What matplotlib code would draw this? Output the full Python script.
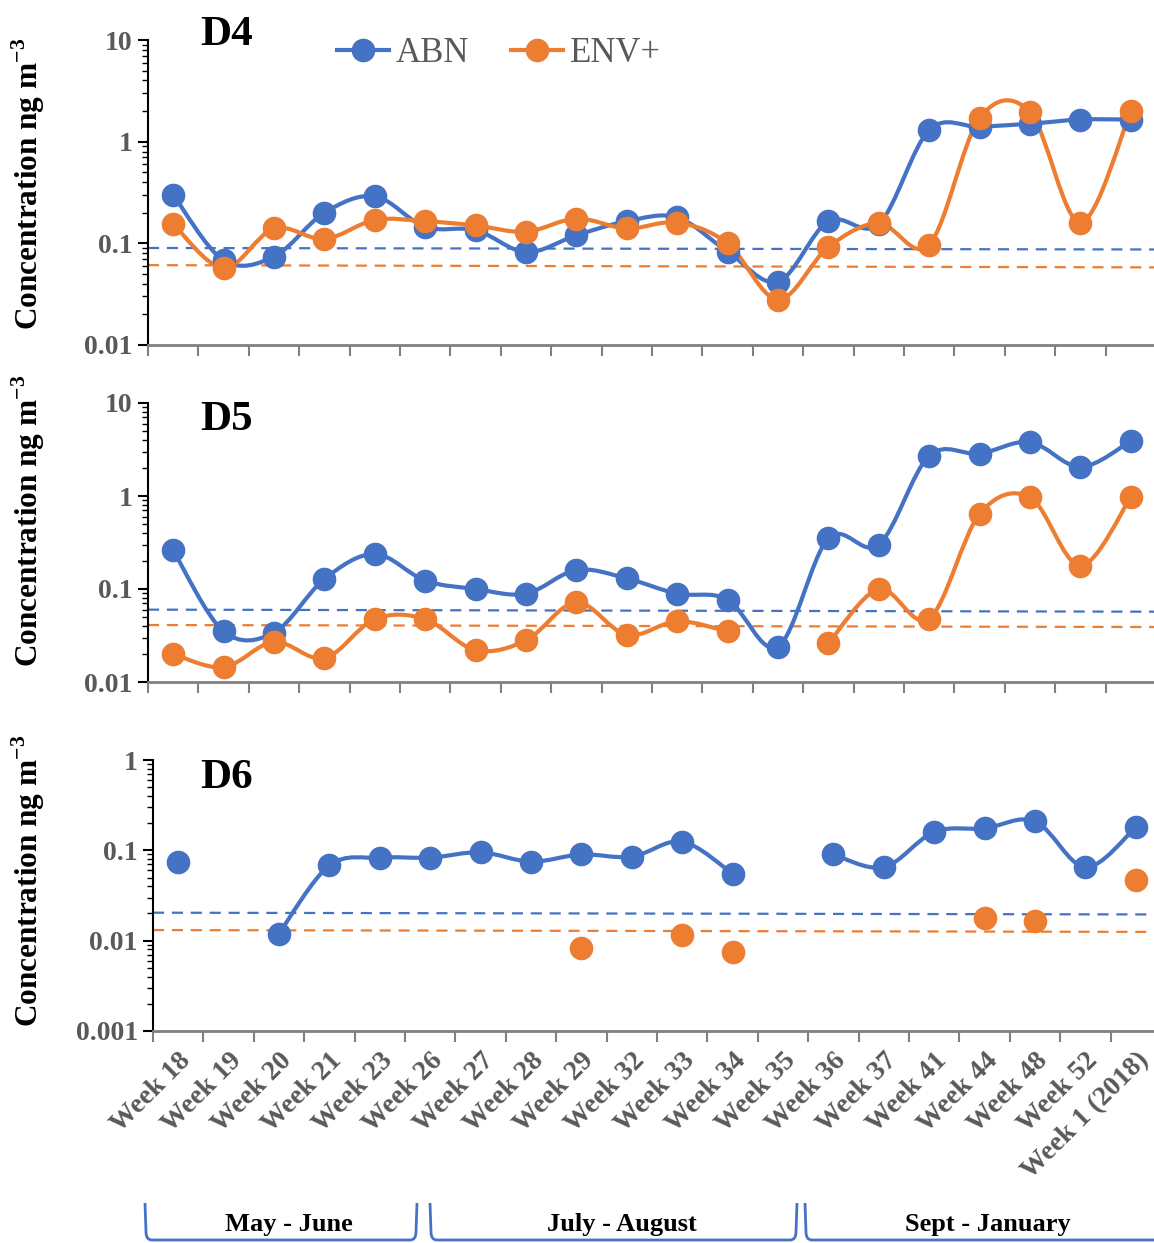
import numpy as np
import matplotlib
matplotlib.use('Agg')
import matplotlib.pyplot as plt
from matplotlib.path import Path
from matplotlib.patches import PathPatch
from matplotlib.lines import Line2D
from matplotlib.ticker import LogLocator, NullFormatter, FuncFormatter

plt.rcParams['font.family'] = ['Liberation Serif', 'DejaVu Serif']
plt.rcParams['mathtext.fontset'] = 'custom'
plt.rcParams['mathtext.rm'] = 'Liberation Serif'
plt.rcParams['mathtext.bf'] = 'Liberation Serif:bold'

nan = np.nan

#-----------------------data-----------------------------------------------#
weeks = ['Week 18', 'Week 19', 'Week 20', 'Week 21', 'Week 23', 'Week 26',
         'Week 27', 'Week 28', 'Week 29', 'Week 32', 'Week 33', 'Week 34',
         'Week 35', 'Week 36', 'Week 37', 'Week 41', 'Week 44', 'Week 48',
         'Week 52', 'Week 1 (2018)']

d4_abn = [0.30, 0.068, 0.074, 0.20, 0.29, 0.145, 0.135, 0.082, 0.12, 0.165,
          0.18, 0.083, 0.042, 0.165, 0.155, 1.3, 1.4, 1.5, 1.65, 1.65]
d4_env = [0.155, 0.057, 0.14, 0.11, 0.17, 0.165, 0.15, 0.13, 0.175, 0.14,
          0.16, 0.10, 0.028, 0.092, 0.158, 0.097, 1.7, 1.95, 0.16, 2.0]

d5_abn = [0.26, 0.035, 0.034, 0.128, 0.238, 0.123, 0.10, 0.089, 0.16, 0.13,
          0.089, 0.077, 0.024, 0.35, 0.30, 2.7, 2.85, 3.8, 2.05, 3.9]
d5_env = [0.020, 0.0144, 0.027, 0.018, 0.0475, 0.0475, 0.022, 0.028, 0.072, 0.032,
          0.045, 0.035, nan, 0.026, 0.10, 0.048, 0.64, 0.97, 0.178, 0.97]

d6_abn = [0.075, nan, 0.012, 0.068, 0.083, 0.083, 0.095, 0.075, 0.09, 0.085,
          0.125, 0.055, nan, 0.09, 0.065, 0.16, 0.175, 0.21, 0.065, 0.18]
d6_env = [nan, nan, nan, nan, nan, nan, nan, nan, 0.0082, nan,
          0.0115, 0.0075, nan, nan, nan, nan, 0.018, 0.0166, nan, 0.047]

# detection limit lines (value at left end, value at right end)
dl_abn = [(0.090, 0.087), (0.060, 0.057), (0.0204, 0.0195)]
dl_env = [(0.061, 0.058), (0.041, 0.039), (0.0131, 0.0125)]

panels = ['D4', 'D5', 'D6']
periods = ['May - June', 'July - August', 'Sept - January']

#-----------------------style---------------------------#
BLUE = '#4472C4'
ORANGE = '#ED7D31'
GREY = '#595959'

W, H = 1154, 1243


def fx(x):
    return x / W


def fy(y):
    return 1 - y / H


def smooth_path(y):
    # Excel-like smoothed line: Catmull-Rom beziers in (x, log y)
    x = np.arange(len(y), dtype=float)
    ly = np.log10(np.asarray(y, dtype=float))
    ok = ~np.isnan(ly)
    verts, codes = [], []
    i, n = 0, len(x)
    while i < n:
        if not ok[i]:
            i += 1
            continue
        j = i
        while j + 1 < n and ok[j + 1]:
            j += 1
        if j > i:
            px, py = x[i:j + 1], ly[i:j + 1]
            m = len(px)
            verts.append((px[0], py[0]))
            codes.append(Path.MOVETO)
            for k in range(m - 1):
                k0 = k - 1 if k > 0 else k
                k3 = k + 2 if k + 2 < m else k + 1
                c1 = (px[k] + (px[k + 1] - px[k0]) / 6, py[k] + (py[k + 1] - py[k0]) / 6)
                c2 = (px[k + 1] - (px[k3] - px[k]) / 6, py[k + 1] - (py[k3] - py[k]) / 6)
                verts += [c1, c2, (px[k + 1], py[k + 1])]
                codes += [Path.CURVE4] * 3
        i = j + 1
    if not verts:
        return None
    v = np.array(verts)
    v[:, 1] = 10 ** v[:, 1]
    return Path(v, codes)


fig = plt.figure(figsize=(W / 100, H / 100), dpi=100)

# axes boxes in pixels: left, top, bottom
boxes = [(148, 40, 345), (148, 403, 682), (153, 760, 1031)]
ylims = [(0.01, 10), (0.01, 10), (0.001, 1)]
series = [(d4_abn, d4_env), (d5_abn, d5_env), (d6_abn, d6_env)]
env_line = [True, True, False]
label_y = [0.528, 0.577, 0.553]
title_base = [45, 430, 788]

x = np.arange(len(weeks))
axes = []
for p in range(3):
    left, top, bottom = boxes[p]
    ax = fig.add_axes([fx(left), fy(bottom), 1008 / W, (bottom - top) / H])
    axes.append(ax)
    ax.set_yscale('log')
    ax.set_xlim(-0.5, len(weeks) - 0.5)
    ax.set_ylim(*ylims[p])

    abn, env = series[p]
    for col, dl in ((BLUE, dl_abn[p]), (ORANGE, dl_env[p])):
        ax.plot(ax.get_xlim(), dl, color=col, lw=1.6, dashes=(5, 3.5), zorder=2)
    for vals, col, joined in ((abn, BLUE, True), (env, ORANGE, env_line[p])):
        path = smooth_path(vals) if joined else None
        if path is not None:
            ax.add_patch(PathPatch(path, facecolor='none', edgecolor=col, lw=3,
                                   capstyle='round', joinstyle='round', zorder=3))
        ax.plot(x, vals, 'o', color=col, ms=16, mec=col, zorder=4)

    ax.spines['top'].set_visible(False)
    ax.spines['right'].set_visible(False)
    ax.spines['left'].set_color('black')
    ax.spines['left'].set_linewidth(1.5)
    ax.spines['bottom'].set_color('#808080')
    ax.spines['bottom'].set_linewidth(2)

    ax.yaxis.set_major_locator(LogLocator(base=10, numticks=10))
    ax.yaxis.set_minor_locator(LogLocator(base=10, subs=np.arange(2, 10), numticks=10))
    ax.yaxis.set_minor_formatter(NullFormatter())
    ax.yaxis.set_major_formatter(FuncFormatter(lambda v, pos: '%g' % v))
    ax.tick_params(axis='y', which='major', length=7, width=1.5, color='black',
                   labelsize=20, labelcolor=GREY, pad=4)
    ax.tick_params(axis='y', which='minor', length=4, width=1, color='black')
    for t in ax.get_yticklabels():
        t.set_fontweight('bold')

    ax.set_xticks(np.arange(-0.5, len(weeks)), minor=False)
    ax.set_xticklabels([])
    ax.set_xticks(x, minor=True)
    ax.tick_params(axis='x', which='major', length=8, width=1.5, color='#808080')
    ax.tick_params(axis='x', which='minor', length=0)
    if p == 2:
        ax.set_xticklabels(weeks, minor=True, rotation=45, ha='right',
                           rotation_mode='anchor', fontsize=20, fontweight='bold',
                           color=GREY)
        ax.tick_params(axis='x', which='minor', pad=12)

    ax.set_ylabel(r'Concentration ng m$^{\mathbf{-3}}$', fontsize=22.5,
                  fontweight='bold', color='black')
    ax.yaxis.set_label_coords((47 - left) / 1008, label_y[p])

    fig.text(fx(200), fy(title_base[p]), panels[p], fontsize=31, fontweight='bold',
             va='baseline', ha='left')

# legend
handles = [Line2D([], [], color=BLUE, lw=3, marker='o', ms=16),
           Line2D([], [], color=ORANGE, lw=3, marker='o', ms=16)]
fig.legend(handles, ['ABN', 'ENV+'], loc='center', bbox_to_anchor=(fx(499), fy(54)),
           ncol=2, frameon=False, fontsize=25, labelcolor=GREY, handlelength=1.5,
           handletextpad=0.2, columnspacing=1.2)

# period brackets under the x axis
ov = fig.add_axes([0, 0, 1, 1], zorder=-1)
ov.set_xlim(0, W)
ov.set_ylim(H, 0)
ov.axis('off')
spans = [(145, 417), (430, 797), (805, 1165)]
for (a, b), name in zip(spans, periods):
    r = 6
    verts = [(a, 1203), (a + 1, 1238 - r), (a + 1, 1240), (a + 1 + r, 1240),
             (b - 1 - r, 1240), (b - 1, 1240), (b - 1, 1238 - r), (b, 1203)]
    codes = [Path.MOVETO, Path.LINETO, Path.CURVE3, Path.CURVE3,
             Path.LINETO, Path.CURVE3, Path.CURVE3, Path.LINETO]
    ov.add_patch(PathPatch(Path(verts, codes), facecolor='none', edgecolor=BLUE, lw=2))
    ov.text((a + min(b, W)) / 2 + 8, 1224, name, fontsize=19, fontweight='bold',
            ha='center', va='center')

fig.savefig('out.png', dpi=100)
